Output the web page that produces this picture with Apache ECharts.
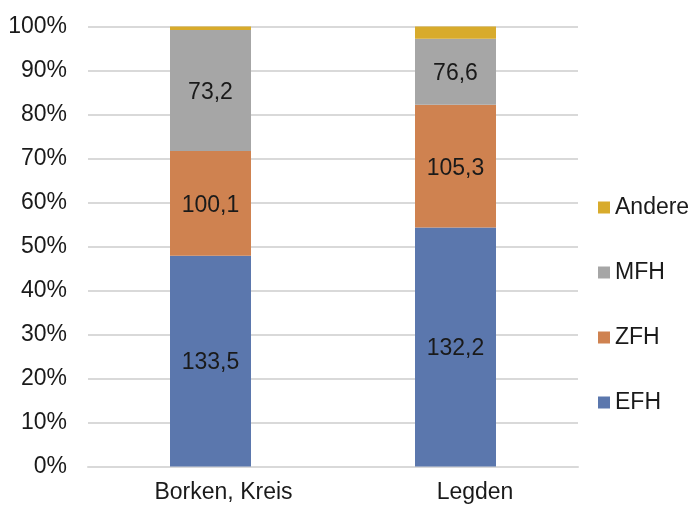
<!DOCTYPE html>
<html>
<head>
<meta charset="utf-8">
<script src="https://cdn.jsdelivr.net/npm/echarts@6/dist/echarts.min.js"></script>
<style>
  html, body { margin: 0; padding: 0; background: #fff; }
  #grafica { width: 692px; height: 507px; }
</style>
</head>
<body>
<div id="grafica"></div>
<script>
// categories and shares (percent of total)
const categorias = ["Borken, Kreis", "Legden"];
const efh = [47.9, 54.3];
const zfh = [23.8, 27.9];
const mfh = [27.5, 15.0];
const andere = [0.8, 2.8];

// values printed inside the segments
const efhText = ["133,5", "132,2"];
const zfhText = ["100,1", "105,3"];
const mfhText = ["73,2", "76,6"];

const fuente = "'Liberation Sans', Arial, sans-serif";
const colorTexto = "#1a1a1a";

const etiqueta = (textos) => ({
  show: true,
  position: "inside",
  offset: [0, 2],
  fontFamily: fuente,
  fontSize: 23,
  color: colorTexto,
  formatter: (p) => textos[p.dataIndex],
});

const serie = (name, data, color, textos) => ({
  name: name,
  type: "bar",
  stack: "total",
  barWidth: 81,
  data: data,
  itemStyle: { color: color },
  label: textos ? etiqueta(textos) : { show: false },
  emphasis: { disabled: true },
});

const getOptionChart = () => {
  return {
    animation: false,
    backgroundColor: "#fff",
    grid: { left: 88, right: 114, top: 26.5, bottom: 40.5 },
    legend: {
      orient: "vertical",
      left: 598,
      top: 195,
      padding: 0,
      itemWidth: 12,
      itemHeight: 12,
      itemGap: 40,
      icon: "rect",
      data: ["Andere", "MFH", "ZFH", "EFH"],
      textStyle: { fontFamily: fuente, fontSize: 23, color: colorTexto, lineHeight: 25 },
    },
    xAxis: {
      type: "category",
      data: categorias,
      axisTick: { show: false },
      axisLine: { lineStyle: { color: "#d9d9d9", width: 2 } },
      axisLabel: {
        margin: 15,
        fontFamily: fuente,
        fontSize: 23,
        color: colorTexto,
        formatter: (v, i) => (i === 0 ? "{a|" + v + "}" : "{b|" + v + "}"),
        rich: {
          a: { fontFamily: fuente, fontSize: 23, color: colorTexto, padding: [0, 0, 0, 26] },
          b: { fontFamily: fuente, fontSize: 23, color: colorTexto, padding: [0, 0, 0, 39] },
        },
      },
    },
    yAxis: {
      type: "value",
      min: 0,
      max: 100,
      interval: 10,
      axisLine: { show: false },
      axisTick: { show: false },
      splitLine: { lineStyle: { color: "#d9d9d9", width: 2 } },
      axisLabel: {
        margin: 21,
        fontFamily: fuente,
        fontSize: 23,
        color: colorTexto,
        formatter: "{value}%",
      },
    },
    series: [
      serie("EFH", efh, "#5b77ad", efhText),
      serie("ZFH", zfh, "#cf8250", zfhText),
      serie("MFH", mfh, "#a6a6a6", mfhText),
      serie("Andere", andere, "#d8ab2c", null),
    ],
  };
};

const initCharts = () => {
  const chart = echarts.init(document.querySelector("#grafica"));
  chart.setOption(getOptionChart());
};

initCharts();
</script>
</body>
</html>
